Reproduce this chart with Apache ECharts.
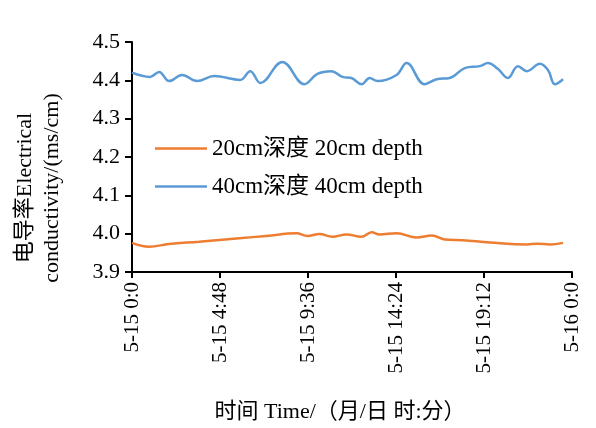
<!DOCTYPE html>
<html>
<head>
<meta charset="utf-8">
<script src="https://cdn.jsdelivr.net/npm/echarts@6/dist/echarts.min.js"></script>
<style>
  html, body { margin: 0; padding: 0; background: #fff; }
  #chart { width: 596px; height: 428px; }
</style>
</head>
<body>
<div id="chart"></div>
<script>
// Hours since 5-15 0:00 and electrical conductivity (ms/cm)
const depth20Hours = [0, 0.93, 2.02, 3.66, 5.85, 7.33, 8.97, 9.57, 10.22, 10.93, 11.70, 12.52, 13.07, 13.50, 14.43, 15.53, 16.35, 17.06, 18.04, 19.52, 21.54, 22.09, 22.80, 23.51];
const depth20Values = [3.976, 3.966, 3.973, 3.979, 3.988, 3.994, 4.001, 3.994, 3.999, 3.992, 3.998, 3.992, 4.004, 3.998, 4.001, 3.990, 3.995, 3.985, 3.983, 3.977, 3.972, 3.974, 3.972, 3.976];

const depth40Hours = [0, 0.98, 1.48, 2.02, 2.73, 3.55, 4.48, 5.90, 6.45, 7.00, 8.20, 9.40, 10.11, 10.88, 11.48, 11.97, 12.52, 12.96, 13.39, 14.43, 14.98, 15.96, 16.62, 17.33, 18.15, 18.97, 19.41, 19.95, 20.50, 21.05, 21.54, 22.25, 22.69, 23.07, 23.51];
const depth40Values = [4.420, 4.409, 4.422, 4.398, 4.414, 4.398, 4.411, 4.401, 4.424, 4.393, 4.448, 4.390, 4.417, 4.424, 4.409, 4.406, 4.390, 4.406, 4.398, 4.414, 4.445, 4.390, 4.403, 4.406, 4.432, 4.437, 4.445, 4.430, 4.406, 4.437, 4.424, 4.443, 4.427, 4.390, 4.403];

const seriesNames = ['20cm深度 20cm depth', '40cm深度 40cm depth'];
const timeTickLabels = ['5-15 0:0', '5-15 4:48', '5-15 9:36', '5-15 14:24', '5-15 19:12', '5-16 0:0'];
const yTicks = { min: 3.9, max: 4.5, step: 0.1 };
const xAxisTitle = '时间 Time/（月/日 时:分）';
const yAxisTitle = '电导率Electrical\nconductivity/(ms/cm)';

const serif = '"Liberation Serif", "Times New Roman", "Noto Sans CJK SC", serif';
const pairs = (xs, ys) => xs.map((x, i) => [x, ys[i]]);

const chart = echarts.init(document.getElementById('chart'), null, { renderer: 'canvas' });
chart.setOption({
  animation: false,
  backgroundColor: '#ffffff',
  grid: { left: 132, right: 24, top: 42, bottom: 156, containLabel: false },
  legend: {
    orient: 'vertical',
    left: 150,
    top: 132,
    icon: 'rect',
    itemWidth: 52,
    itemHeight: 2.5,
    itemGap: 15,
    textStyle: { fontFamily: serif, fontSize: 23, color: '#000', lineHeight: 22 },
    data: seriesNames
  },
  xAxis: {
    type: 'value',
    min: 0,
    max: 24,
    interval: 4.8,
    splitLine: { show: false },
    axisLine: { lineStyle: { color: '#000', width: 2 } },
    axisTick: { inside: false, length: 6, lineStyle: { color: '#000', width: 2 } },
    axisLabel: {
      rotate: 90,
      margin: 10,
      fontFamily: serif,
      fontSize: 21,
      color: '#000',
      formatter: v => timeTickLabels[Math.round(v / 4.8)]
    }
  },
  yAxis: {
    type: 'value',
    min: yTicks.min,
    max: yTicks.max,
    interval: yTicks.step,
    splitLine: { show: false },
    axisLine: { show: true, lineStyle: { color: '#000', width: 2 } },
    axisTick: { show: true, inside: false, length: 7, lineStyle: { color: '#000', width: 2 } },
    axisLabel: {
      margin: 12,
      fontFamily: serif,
      fontSize: 22,
      color: '#000',
      formatter: v => v.toFixed(1)
    }
  },
  graphic: [
    {
      type: 'text',
      x: 39,
      y: 188,
      rotation: Math.PI / 2,
      style: {
        text: yAxisTitle,
        align: 'center',
        verticalAlign: 'middle',
        lineHeight: 27,
        font: '22px ' + serif,
        fill: '#000'
      }
    },
    {
      type: 'text',
      x: 340,
      y: 412,
      style: {
        text: xAxisTitle,
        align: 'center',
        verticalAlign: 'middle',
        font: '22px ' + serif,
        fill: '#000'
      }
    }
  ],
  series: [
    {
      name: seriesNames[0],
      type: 'line',
      data: pairs(depth20Hours, depth20Values),
      smooth: 0.4,
      symbol: 'none',
      lineStyle: { color: '#ED7D31', width: 2.5 },
      itemStyle: { color: '#ED7D31' }
    },
    {
      name: seriesNames[1],
      type: 'line',
      data: pairs(depth40Hours, depth40Values),
      smooth: 0.4,
      symbol: 'none',
      lineStyle: { color: '#5B9BD5', width: 2.5 },
      itemStyle: { color: '#5B9BD5' }
    }
  ]
});
</script>
</body>
</html>
